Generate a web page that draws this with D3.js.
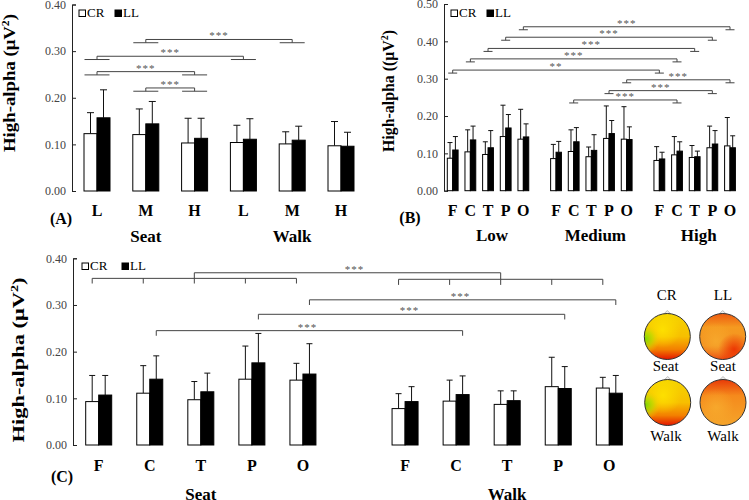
<!DOCTYPE html>
<html>
<head>
<meta charset="utf-8">
<script src="https://cdn.jsdelivr.net/npm/d3@7"></script>
<style>
body { margin: 0; background: #fff; }
text { font-family: "Liberation Serif", "Times New Roman", serif; }
</style>
</head>
<body>
<div id="chart"></div>
<script>
// ---- data ----
// panel A: power level by setting
var catsA = ["L", "M", "H", "L", "M", "H"]
var groupsA = ["Seat", "Walk"]
var crA = [0.123, 0.121, 0.103, 0.104, 0.101, 0.097]
var crSdA = [0.045, 0.055, 0.053, 0.037, 0.026, 0.052]
var llA = [0.157, 0.144, 0.113, 0.111, 0.109, 0.096]
var llSdA = [0.060, 0.048, 0.043, 0.044, 0.030, 0.030]
var sigPairsA = [[1, 4], [0, 3], [0, 2], [1, 2]]
var sigLabelsA = ["***", "***", "***", "***"]

// panel B: region by level
var catsB = ["F", "C", "T", "P", "O", "F", "C", "T", "P", "O", "F", "C", "T", "P", "O"]
var groupsB = ["Low", "Medium", "High"]
var crB = [0.087, 0.104, 0.097, 0.145, 0.138, 0.086, 0.105, 0.091, 0.140, 0.138, 0.081, 0.096, 0.089, 0.115, 0.120]
var crSdB = [0.042, 0.059, 0.034, 0.084, 0.080, 0.038, 0.058, 0.026, 0.087, 0.087, 0.037, 0.049, 0.032, 0.058, 0.076]
var llB = [0.109, 0.136, 0.115, 0.168, 0.144, 0.103, 0.131, 0.108, 0.153, 0.137, 0.085, 0.106, 0.091, 0.125, 0.115]
var llSdB = [0.036, 0.037, 0.046, 0.036, 0.035, 0.029, 0.038, 0.042, 0.035, 0.034, 0.018, 0.025, 0.015, 0.036, 0.032]
var sigPairsB = [[4, 14], [3, 13], [2, 12], [1, 11], [0, 10], [9, 14], [8, 13], [6, 11]]
var sigLabelsB = ["***", "***", "***", "***", "**", "***", "***", "***"]

// panel C: region by setting
var catsC = ["F", "C", "T", "P", "O", "F", "C", "T", "P", "O"]
var groupsC = ["Seat", "Walk"]
var crC = [0.093, 0.111, 0.097, 0.141, 0.139, 0.078, 0.094, 0.087, 0.125, 0.122]
var crSdC = [0.056, 0.059, 0.039, 0.071, 0.036, 0.032, 0.045, 0.029, 0.063, 0.023]
var llC = [0.107, 0.141, 0.114, 0.176, 0.152, 0.093, 0.108, 0.095, 0.121, 0.111]
var llSdC = [0.042, 0.050, 0.040, 0.063, 0.065, 0.032, 0.040, 0.021, 0.047, 0.038]
var sigPairsC = [[4, 9], [3, 8], [1, 6]]
var sigLabelsC = ["***", "***", "***"]

var ticksA = [0, 0.1, 0.2, 0.3, 0.4]
var ticksB = [0, 0.1, 0.2, 0.3, 0.4, 0.5]
var ticksC = [0, 0.1, 0.2, 0.3, 0.4]

var svg = d3.select("#chart").append("svg")
  .attr("width", 749)
  .attr("height", 500)

function drawPanel(p) {
  var g = svg.append("g")
  var x = d3.scaleLinear().domain(p.slotDomain).range(p.xRange)
  var y = d3.scaleLinear().domain([0, d3.max(p.ticks)]).range(p.yRange)

  var ax = g.append("g")
    .attr("transform", "translate(" + p.axisX + ",0)")
    .call(d3.axisLeft(y).tickValues(p.ticks).tickFormat(d3.format(".2f"))
      .tickSizeInner(-4).tickSizeOuter(-4).tickPadding(6))
  ax.selectAll("text")
    .attr("font-family", "Liberation Serif")
    .attr("font-size", 12)
    .attr("fill", "#444")
  ax.selectAll("path, line").attr("stroke", "#222")

  var slots = p.cats.map(p.slotOf)
  var bw = p.barW

  // error bars (mean to mean + sd)
  var err = g.append("g").attr("stroke", "#111").attr("stroke-width", 1)
  p.cats.forEach(function(c, i) {
    var cx = x(slots[i])
    ;[[cx - bw / 2, p.cr[i], p.crSd[i]], [cx + bw / 2, p.ll[i], p.llSd[i]]].forEach(function(e) {
      err.append("line").attr("x1", e[0]).attr("x2", e[0])
        .attr("y1", y(e[1])).attr("y2", y(e[1] + e[2]))
      err.append("line").attr("x1", e[0] - p.capW / 2).attr("x2", e[0] + p.capW / 2)
        .attr("y1", y(e[1] + e[2])).attr("y2", y(e[1] + e[2]))
    })
  })

  // bars
  g.selectAll("rect.cr").data(p.cr).enter().append("rect")
    .attr("class", "cr")
    .attr("x", function(d, i) { return x(slots[i]) - bw })
    .attr("y", function(d) { return y(d) })
    .attr("width", bw)
    .attr("height", function(d) { return y(0) - y(d) })
    .attr("fill", "#fff").attr("stroke", "#000").attr("stroke-width", 1)
  g.selectAll("rect.ll").data(p.ll).enter().append("rect")
    .attr("class", "ll")
    .attr("x", function(d, i) { return x(slots[i]) })
    .attr("y", function(d) { return y(d) })
    .attr("width", bw)
    .attr("height", function(d) { return y(0) - y(d) })
    .attr("fill", "#000").attr("stroke", "#000").attr("stroke-width", 1)

  // category labels
  g.selectAll("text.cat").data(p.cats).enter().append("text")
    .attr("class", "cat")
    .attr("x", function(d, i) { return x(slots[i]) })
    .attr("y", p.catY)
    .attr("text-anchor", "middle")
    .attr("font-weight", "bold")
    .attr("font-size", 16)
    .text(function(d) { return d })

  g.selectAll("text.grp").data(p.groups).enter().append("text")
    .attr("class", "grp")
    .attr("x", function(d, i) { return x(p.groupSlot(i)) + (p.groupShift || 0) })
    .attr("y", p.groupY)
    .attr("text-anchor", "middle")
    .attr("font-weight", "bold")
    .attr("font-size", 17)
    .text(function(d) { return d })

  g.append("text")
    .attr("x", p.letterX).attr("y", p.letterY)
    .attr("text-anchor", "middle")
    .attr("font-weight", "bold").attr("font-size", 16)
    .text(p.letter)

  // y title
  var t = g.append("text")
    .attr("transform", "translate(" + p.titleX + "," + p.titleY + ") rotate(-90)")
    .attr("text-anchor", "middle")
    .attr("font-weight", "bold").attr("font-size", 16)
    .attr("textLength", p.titleLen).attr("lengthAdjust", "spacingAndGlyphs")
  t.append("tspan").text(p.titlePre)
  t.append("tspan").attr("font-size", 10).attr("dy", -6).text("2")
  t.append("tspan").attr("dy", 6).text(")")

  // legend
  var lg = g.append("g").attr("transform", "translate(" + p.legX + "," + p.legY + ")")
  lg.append("rect").attr("x", 0).attr("y", -7).attr("width", 6.5).attr("height", 6.5)
    .attr("fill", "#fff").attr("stroke", "#000")
  lg.append("text").attr("x", 8).attr("y", 0).attr("font-size", 13).text("CR")
  lg.append("rect").attr("x", p.legGap).attr("y", -7).attr("width", 6.5).attr("height", 6.5)
    .attr("fill", "#000").attr("stroke", "#000")
  lg.append("text").attr("x", p.legGap + 8).attr("y", 0).attr("font-size", 13).text("LL")

  return { g: g, x: x, y: y, slots: slots }
}

function stars(g, cx, yy, label) {
  g.append("text")
    .attr("x", cx).attr("y", yy + 2)
    .attr("text-anchor", "middle")
    .attr("font-size", 11)
    .attr("letter-spacing", 1)
    .attr("fill", "#555")
    .text(label)
}

// bracket with a short foot across each paired group
function footBrackets(r, pairs, labels, levels, drop, footW) {
  var b = r.g.append("g").attr("stroke", "#444").attr("fill", "none").attr("stroke-width", 1)
  pairs.forEach(function(pr, k) {
    var xa = r.x(r.slots[pr[0]]), xb = r.x(r.slots[pr[1]])
    var yl = r.y(levels[k]), yf = r.y(levels[k] - drop)
    b.append("path").attr("d",
      "M" + (xa - footW) + "," + yf + "H" + (xa + footW) +
      "M" + xa + "," + yf + "V" + yl + "H" + xb + "V" + yf +
      "M" + (xb - footW) + "," + yf + "H" + (xb + footW))
    stars(r.g, (xa + xb) / 2, yl - 2, labels[k])
  })
}

// ---- panel A ----
var rA = drawPanel({
  cats: catsA, groups: groupsA, cr: crA, crSd: crSdA, ll: llA, llSd: llSdA,
  ticks: ticksA, yRange: [191, 4.5], axisX: 72,
  slotOf: function(d, i) { return i }, slotDomain: [0, 5], xRange: [97, 341],
  groupSlot: function(i) { return i * 3 + 1 },
  barW: 13, capW: 7, catY: 216, groupY: 242,
  letter: "(A)", letterX: 61, letterY: 224,
  titleX: 15, titleY: 83, titleLen: 138, titlePre: "High-alpha (\u03bcV",
  legX: 79, legY: 17, legGap: 36
})
footBrackets(rA, sigPairsA, sigLabelsA, [0.325, 0.289, 0.256, 0.221], 0.007, 12.5)

// ---- panel B ----
var rB = drawPanel({
  cats: catsB, groups: groupsB, cr: crB, crSd: crSdB, ll: llB, llSd: llSdB,
  ticks: ticksB, yRange: [190.7, 4], axisX: 444,
  slotOf: function(d, i) { return Math.floor(i / 5) * 5.85 + i % 5 }, slotDomain: [0, 15.7], xRange: [452.7, 730],
  groupSlot: function(i) { return i * 5.85 + 2 }, groupShift: 4,
  barW: 5.4, capW: 5, catY: 216, groupY: 241,
  letter: "(B)", letterX: 410, letterY: 223,
  titleX: 394, titleY: 91, titleLen: 122, titlePre: "High-alpha ((\u03bcV",
  legX: 451, legY: 17, legGap: 36
})
footBrackets(rB, sigPairsB, sigLabelsB, [0.439, 0.411, 0.381, 0.353, 0.323, 0.297, 0.268, 0.243], 0.008, 4.5)

// ---- panel C ----
var rC = drawPanel({
  cats: catsC, groups: groupsC, cr: crC, crSd: crSdC, ll: llC, llSd: llSdC,
  ticks: ticksC, yRange: [445, 258.3], axisX: 73,
  slotOf: function(d, i) { return i < 5 ? i : i + 1 }, slotDomain: [0, 10], xRange: [98.7, 609.3],
  groupSlot: function(i) { return i * 6 + 2 },
  barW: 13, capW: 6, catY: 471, groupY: 500,
  letter: "(C)", letterX: 62, letterY: 482,
  titleX: 24, titleY: 360, titleLen: 165, titlePre: "High-alpha (\u03bcV",
  legX: 82, legY: 270, legGap: 40
})

;(function() {
  var b = rC.g.append("g").attr("stroke", "#444").attr("fill", "none").attr("stroke-width", 1)
  var crX = function(i) { return rC.x(rC.slots[i]) - 13 / 2 }
  var llX = function(i) { return rC.x(rC.slots[i]) + 13 / 2 }
  // setting brackets across the five regions
  var grpLv = [[0.357, 0.346], [0.355, 0.343]]
  var top = 0.369
  ;[[0, 4], [5, 9]].forEach(function(rg, k) {
    var yl = rC.y(grpLv[k][0]), yf = rC.y(grpLv[k][1])
    b.append("line").attr("x1", crX(rg[0])).attr("x2", crX(rg[1])).attr("y1", yl).attr("y2", yl)
    d3.range(rg[0], rg[1] + 1).forEach(function(i) {
      b.append("line").attr("x1", crX(i)).attr("x2", crX(i)).attr("y1", yl).attr("y2", yf)
    })
    b.append("line").attr("x1", crX(rg[0] + 2)).attr("x2", crX(rg[0] + 2))
      .attr("y1", yl).attr("y2", rC.y(top))
  })
  b.append("line").attr("x1", crX(2)).attr("x2", crX(7)).attr("y1", rC.y(top)).attr("y2", rC.y(top))
  stars(rC.g, (crX(2) + crX(7)) / 2 + 7, rC.y(top) - 2, "***")

  var lv = [0.311, 0.280, 0.245]
  sigPairsC.forEach(function(pr, k) {
    var xa = llX(pr[0]), xb = llX(pr[1]), yl = rC.y(lv[k]), yf = rC.y(lv[k] - 0.011)
    b.append("path").attr("d", "M" + xa + "," + yf + "V" + yl + "H" + xb + "V" + yf)
    stars(rC.g, (xa + xb) / 2 - 2, yl - 2, sigLabelsC[k])
  })
})()

// ---- scalp maps ----
var defs = svg.append("defs")
function radial(id, cx, cy, r, stops) {
  var gr = defs.append("radialGradient").attr("id", id)
    .attr("cx", cx).attr("cy", cy).attr("r", r)
  stops.forEach(function(s) {
    gr.append("stop").attr("offset", s[0]).attr("stop-color", s[1]).attr("stop-opacity", s[2])
  })
}
function linear(id, stops) {
  var gr = defs.append("linearGradient").attr("id", id)
    .attr("x1", 0).attr("y1", 0).attr("x2", 0).attr("y2", 1)
  stops.forEach(function(s) {
    gr.append("stop").attr("offset", s[0]).attr("stop-color", s[1])
  })
}
linear("crBase", [[0, "#f5d400"], [0.5, "#f7bf00"], [0.78, "#f38000"], [1, "#e41400"]])
linear("llSeatBase", [[0, "#ee5a10"], [0.3, "#f59a20"], [0.7, "#f39020"], [1, "#ec4a10"]])
linear("llWalkBase", [[0, "#e83a08"], [0.35, "#f58a1c"], [1, "#f5a42a"]])
radial("green", 0.02, 0.55, 0.32, [[0, "#7fd800", 1], [0.5, "#b8dc00", 0.7], [1, "#f6d000", 0]])
radial("yellowHi", 0.4, 0.35, 0.4, [[0, "#ffe600", 0.8], [1, "#ffe600", 0]])
radial("redBR", 0.75, 0.78, 0.35, [[0, "#ec3000", 0.9], [1, "#ec3000", 0]])
radial("redTop", 0.5, 0.0, 0.3, [[0, "#e42000", 0.9], [1, "#e42000", 0]])
radial("orangeHi", 0.35, 0.6, 0.4, [[0, "#f8b030", 0.7], [1, "#f8b030", 0]])

function head(cx, cy, layers) {
  var r = 23
  var h = svg.append("g")
  h.append("path")
    .attr("d", "M" + (cx - 4) + "," + (cy - r + 1) + "L" + cx + "," + (cy - r - 3) + "L" + (cx + 4) + "," + (cy - r + 1))
    .attr("fill", "#eee").attr("stroke", "#bbb")
  layers.forEach(function(id) {
    h.append("circle").attr("cx", cx).attr("cy", cy).attr("r", r).attr("fill", "url(#" + id + ")")
  })
  h.append("circle").attr("cx", cx).attr("cy", cy).attr("r", r)
    .attr("fill", "none").attr("stroke", "#333").attr("stroke-width", 1)
}
head(667.3, 336.5, ["crBase", "yellowHi", "green"])
head(722.7, 336.5, ["llSeatBase", "orangeHi", "redBR"])
head(667.7, 402.5, ["crBase", "yellowHi", "green"])
head(723, 402.5, ["llWalkBase", "orangeHi"])

var mapLabels = [["CR", 666.7, 300], ["LL", 723, 300], ["Seat", 665.7, 371], ["Seat", 723, 371], ["Walk", 666, 441], ["Walk", 723, 441]]
svg.selectAll("text.map").data(mapLabels).enter().append("text")
  .attr("class", "map")
  .attr("x", function(d) { return d[1] })
  .attr("y", function(d) { return d[2] })
  .attr("text-anchor", "middle")
  .attr("font-size", 15)
  .text(function(d) { return d[0] })
</script>
</body>
</html>
